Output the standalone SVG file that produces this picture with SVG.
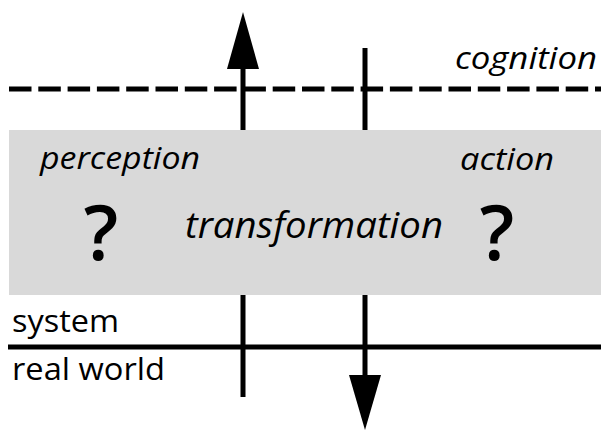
<svg xmlns="http://www.w3.org/2000/svg" width="601" height="430" viewBox="0 0 601 430">
<style>
  .lbl { font-family: "Open Sans", "Noto Sans", "DejaVu Sans", sans-serif; fill: #000; }
  .it { font-style: italic; }
  .ln { stroke: #000; stroke-width: 5; fill: none; }
</style>
<rect width="601" height="430" fill="#fff"/>
<g id="boundaries">
  <line class="ln" x1="9" y1="89" x2="601" y2="89" stroke-dasharray="22.5 6.8"/>
  <line class="ln" x1="8" y1="347" x2="601" y2="347"/>
</g>
<g id="connectors">
  <line class="ln" x1="243" y1="397" x2="243" y2="66"/>
  <polygon points="243,12 259,69 227,69" fill="#000"/>
  <line class="ln" x1="365" y1="48" x2="365" y2="378"/>
  <polygon points="365,430 381,375 349,375" fill="#000"/>
</g>
<g id="system-box">
  <rect x="9" y="130" width="592" height="165" fill="#d9d9d9"/>
</g>
<g id="labels">
  <text class="lbl it" x="455" y="69" font-size="31" textLength="142" lengthAdjust="spacingAndGlyphs">cognition</text>
  <text class="lbl it" x="40" y="169" font-size="31" textLength="160" lengthAdjust="spacingAndGlyphs">perception</text>
  <text class="lbl it" x="460" y="170" font-size="31" textLength="94" lengthAdjust="spacingAndGlyphs">action</text>
  <text class="lbl it" x="185" y="238" font-size="36" textLength="258" lengthAdjust="spacingAndGlyphs">transformation</text>
  <text class="lbl" x="101" y="260" font-size="76" font-weight="600" text-anchor="middle">?</text>
  <text class="lbl" x="497" y="260" font-size="76" font-weight="600" text-anchor="middle">?</text>
  <text class="lbl" x="12" y="332" font-size="31" textLength="107" lengthAdjust="spacingAndGlyphs">system</text>
  <text class="lbl" x="12" y="380" font-size="31" textLength="153" lengthAdjust="spacingAndGlyphs">real world</text>
</g>
</svg>
